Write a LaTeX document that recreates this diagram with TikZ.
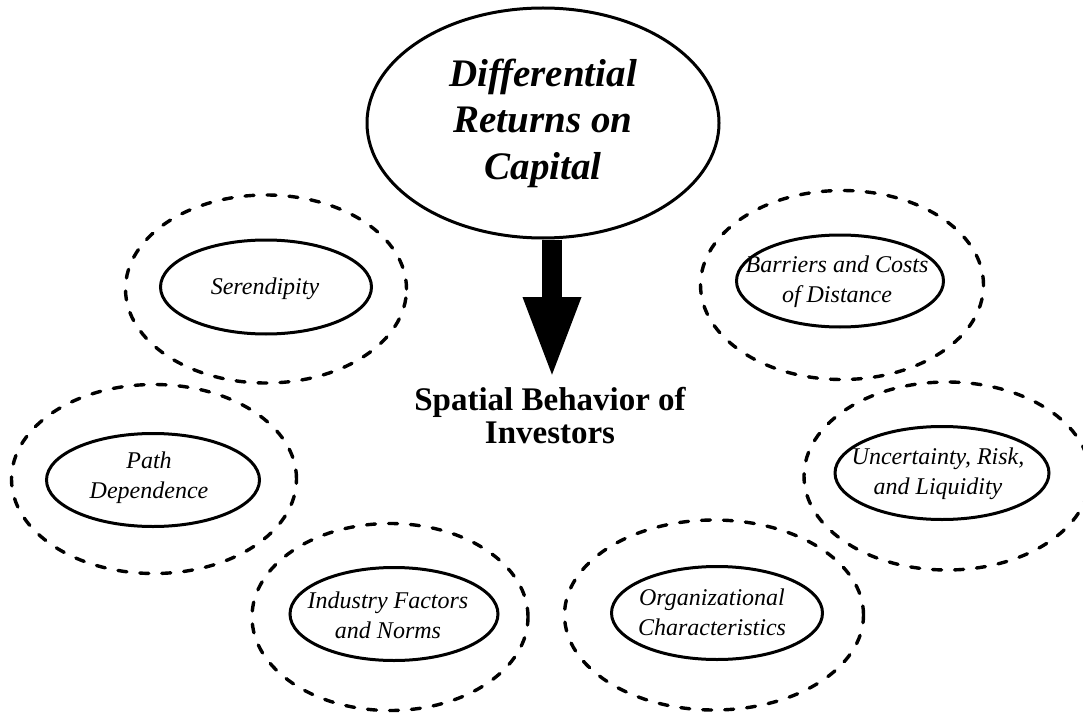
\documentclass[tikz,border=0pt]{standalone}
\usepackage{fontspec}
\setmainfont{Liberation Serif}
\usetikzlibrary{shapes.geometric,arrows.meta}
\begin{document}
\begin{tikzpicture}[x=1pt,y=-1pt,
  outerring/.style={ellipse, draw, line width=3.4pt, dash pattern=on 9pt off 13pt, line cap=round, inner sep=0pt},
  innerring/.style={ellipse, draw, line width=3pt, inner sep=0pt},
  factor/.style={font=\fontsize{24}{30}\selectfont\itshape, align=center, inner sep=0pt},
  mainbox/.style={ellipse, draw, line width=3pt, inner sep=0pt, minimum width=352pt, minimum height=230pt,
    font=\fontsize{39}{46.5}\selectfont\bfseries\itshape, align=center},
  outcome/.style={font=\fontsize{33}{33}\selectfont\bfseries, align=center, inner sep=0pt},
  bigarrow/.style={line width=20pt, -{Triangle[width=52pt, length=83pt]}}
]
\useasboundingbox (0,0) rectangle (1083,714);

% main node
\node[mainbox] (cap) at (543,123) {Differential\\Returns on\\Capital};
\node[outcome] (spatial) at (550,416) {Spatial Behavior of\\Investors};
\coordinate (tip) at (552,380);
\draw[bigarrow] (cap.south -| tip) -- (tip);

% Serendipity
\node[outerring, minimum width=281pt, minimum height=188pt] (serO) at (266,289) {};
\node[innerring, minimum width=211pt, minimum height=94pt] (serI) at (266,287) {};
\node[factor] (serT) at (265,289) {Serendipity};

% Path Dependence
\node[outerring, minimum width=285pt, minimum height=189pt] (pathO) at (154,479) {};
\node[innerring, minimum width=213pt, minimum height=93pt] (pathI) at (153,480) {};
\node[factor] (pathT) at (149,478) {Path\\Dependence};

% Barriers
\node[outerring, minimum width=283pt, minimum height=189pt] (barO) at (842,285) {};
\node[innerring, minimum width=207pt, minimum height=92pt] (barI) at (840,281) {};
\node[factor] (barT) at (837,282) {Barriers and Costs\\of Distance};

% Uncertainty
\node[outerring, minimum width=286pt, minimum height=188pt] (uncO) at (947,476) {};
\node[innerring, minimum width=214pt, minimum height=93pt] (uncI) at (942,473) {};
\node[factor] (uncT) at (938,474) {Uncertainty, Risk,\\and Liquidity};

% Industry
\node[outerring, minimum width=276pt, minimum height=187pt] (indO) at (390,617) {};
\node[innerring, minimum width=208pt, minimum height=93pt] (indI) at (394,614) {};
\node[factor] (indT) at (388,615) {Industry Factors\\and Norms};

% Organizational
\node[outerring, minimum width=299pt, minimum height=190pt] (orgO) at (714,615) {};
\node[innerring, minimum width=211pt, minimum height=93pt] (orgI) at (717,613) {};
\node[factor] (orgT) at (712,612) {Organizational\\Characteristics};
\end{tikzpicture}
\end{document}
